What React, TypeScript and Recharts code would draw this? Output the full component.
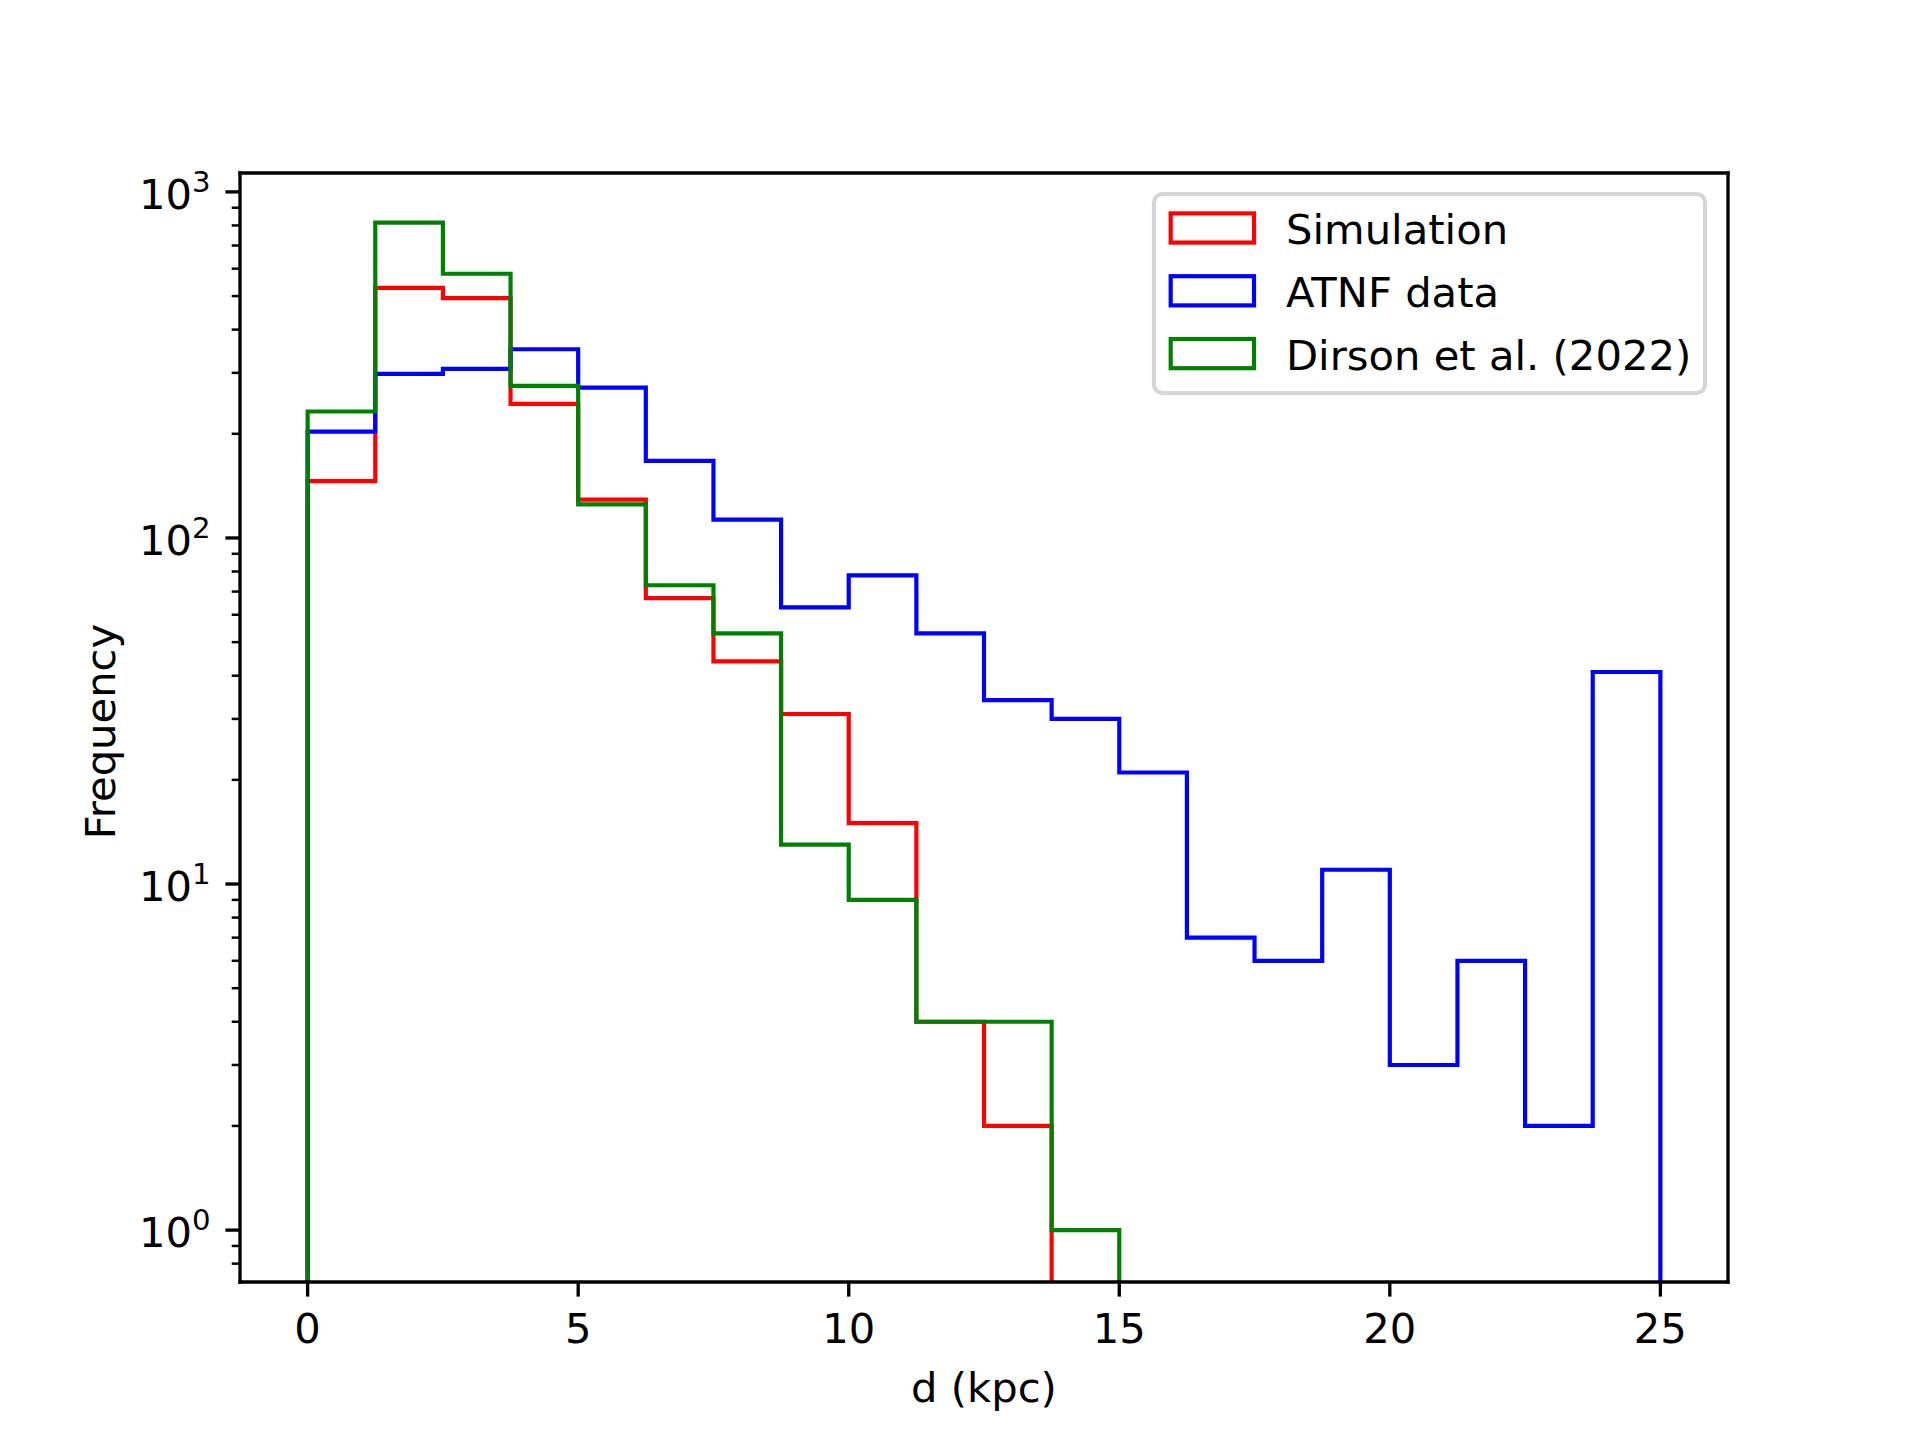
import React from "react";
import { ComposedChart, Line, XAxis, YAxis, Legend } from "recharts";

// ---- data ----
const BIN_EDGES = [0, 1.25, 2.5, 3.75, 5, 6.25, 7.5, 8.75, 10, 11.25, 12.5, 13.75, 15, 16.25, 17.5, 18.75, 20, 21.25, 22.5, 23.75, 25];
const SIMULATION = [146, 528, 493, 244, 129, 67, 44, 31, 15, 4, 2, 0, 0, 0, 0, 0, 0, 0, 0, 0];
const ATNF = [203, 298, 308, 351, 272, 167, 113, 63, 78, 53, 34, 30, 21, 7, 6, 11, 3, 6, 2, 41];
const DIRSON = [232, 815, 580, 275, 125, 73, 53, 13, 9, 4, 4, 1, 0, 0, 0, 0, 0, 0, 0, 0];
const SERIES_NAMES = ["Simulation", "ATNF data", "Dirson et al. (2022)"];
const SERIES_COLORS = ["#ff0000", "#0000ff", "#008000"];
const X_TICKS = [0, 5, 10, 15, 20, 25];
const Y_MAJOR_TICKS = [1, 10, 100, 1000];
const Y_MINOR_TICKS = [0.8, 0.9, 2, 3, 4, 5, 6, 7, 8, 9, 20, 30, 40, 50, 60, 70, 80, 90, 200, 300, 400, 500, 600, 700, 800, 900];
const X_DOMAIN = [-1.25, 26.25];
const Y_DOMAIN = [0.708, 1134];
const LOG_FLOOR = 0.3; // stand-in for empty bins (below the visible range)

const FONT = "DejaVu Sans";
const FS = 41.7;

const v = (n: number) => (n > 0 ? n : LOG_FLOOR);

// step outline table built from the histogram arrays
const buildTable = () => {
  const rows: any[] = [];
  const last = BIN_EDGES.length - 1;
  rows.push({ x: BIN_EDGES[0], sim: LOG_FLOOR, atnf: LOG_FLOOR, dir: LOG_FLOOR });
  for (let i = 0; i < last; i++) {
    rows.push({ x: BIN_EDGES[i], sim: v(SIMULATION[i]), atnf: v(ATNF[i]), dir: v(DIRSON[i]) });
  }
  rows.push({ x: BIN_EDGES[last], sim: v(SIMULATION[last - 1]), atnf: v(ATNF[last - 1]), dir: v(DIRSON[last - 1]) });
  rows.push({ x: BIN_EDGES[last], sim: LOG_FLOOR, atnf: LOG_FLOOR, dir: LOG_FLOOR });
  return rows;
};
const TABLE = buildTable();
const Y_TICKS = [...Y_MAJOR_TICKS, ...Y_MINOR_TICKS].sort((a, b) => a - b);

const XTick = (props: any) => {
  const { x, y, payload } = props;
  return (
    <g>
      <line x1={x} x2={x} y1={y} y2={y + 14.6} stroke="#000" strokeWidth={3.33} />
      <text x={x} y={y + 61} textAnchor="middle" fontFamily={FONT} fontSize={FS} fill="#000">
        {payload.value}
      </text>
    </g>
  );
};

const YTick = (props: any) => {
  const { x, y, payload } = props;
  const val = payload.value;
  const exp = Math.log10(val);
  const major = Math.abs(exp - Math.round(exp)) < 1e-9;
  return (
    <g>
      <line x1={x - (major ? 14.6 : 8.3)} x2={x} y1={y} y2={y} stroke="#000" strokeWidth={major ? 3.33 : 2.5} />
      {major && (
        <text x={x - 29.5} y={y + 16.7} textAnchor="end" fontFamily={FONT} fontSize={FS} fill="#000">
          10
          <tspan dy={-16.5} fontSize={29.2}>
            {Math.round(exp)}
          </tspan>
        </text>
      )}
    </g>
  );
};

const XLabel = (props: any) => {
  const vb = props.viewBox || {};
  const cx = (vb.x ?? 240) + (vb.width ?? 1488) / 2;
  const y = vb.y ?? 1282;
  return (
    <text x={cx} y={y + 120} textAnchor="middle" fontFamily={FONT} fontSize={FS} fill="#000">
      d (kpc)
    </text>
  );
};

const YLabel = (props: any) => {
  const vb = props.viewBox || {};
  const cy = (vb.y ?? 173) + (vb.height ?? 1109) / 2 + 4;
  const x = 115;
  return (
    <text x={x} y={cy} transform={`rotate(-90 ${x} ${cy})`} textAnchor="middle" fontFamily={FONT} fontSize={FS} fill="#000">
      Frequency
    </text>
  );
};

const LegendBox = () => {
  return (
    <svg width={560} height={210} style={{ overflow: "visible", display: "block" }}>
      <rect x={4} y={4} width={551} height={199} rx={8.3} ry={8.3} fill="#ffffff" fillOpacity={0.8} stroke="#d6d6d6" strokeWidth={4.17} />
      {SERIES_NAMES.map((name, i) => {
        const cy = 38 + i * 62.8;
        return (
          <g key={name}>
            <rect x={20.7} y={cy - 14.6} width={83.3} height={29.2} fill="none" stroke={SERIES_COLORS[i]} strokeWidth={4.17} />
            <text x={136} y={cy + 16} fontFamily={FONT} fontSize={FS} fill="#000">
              {name}
            </text>
          </g>
        );
      })}
    </svg>
  );
};

const AXIS_LINE = { stroke: "#000", strokeWidth: 3.33, strokeLinecap: "square" };

export default function App() {
  return (
    <div style={{ position: "absolute", left: 0, top: 0, width: 1920, height: 1440, background: "#fff" }}>
      <ComposedChart
        width={1920}
        height={1440}
        data={TABLE}
        margin={{ top: 172, right: 191, bottom: 98, left: 180 }}
      >
        <XAxis
          dataKey="x"
          type="number"
          domain={X_DOMAIN}
          allowDataOverflow
          ticks={X_TICKS}
          interval={0}
          tick={XTick}
          tickLine={false}
          tickSize={0}
          tickMargin={0}
          height={60}
          axisLine={AXIS_LINE}
          label={XLabel}
        />
        <XAxis
          xAxisId="top"
          orientation="top"
          dataKey="x"
          type="number"
          domain={X_DOMAIN}
          allowDataOverflow
          tick={false}
          tickLine={false}
          height={1}
          axisLine={AXIS_LINE}
        />
        <YAxis
          scale="log"
          type="number"
          domain={Y_DOMAIN}
          allowDataOverflow
          ticks={Y_TICKS}
          interval={0}
          tick={YTick}
          tickLine={false}
          tickSize={0}
          tickMargin={0}
          width={60}
          axisLine={AXIS_LINE}
          label={YLabel}
        />
        <YAxis
          yAxisId="right"
          orientation="right"
          scale="log"
          type="number"
          domain={Y_DOMAIN}
          allowDataOverflow
          tick={false}
          tickLine={false}
          width={1}
          axisLine={AXIS_LINE}
        />
        <Legend
          layout="horizontal"
          verticalAlign="middle"
          align="center"
          content={LegendBox}
          wrapperStyle={{ position: "absolute", left: 1150, top: 190, width: 560, height: 210 }}
        />
        <Line dataKey="sim" name={SERIES_NAMES[0]} type="stepAfter" stroke={SERIES_COLORS[0]} strokeWidth={4.17} dot={false} activeDot={false} isAnimationActive={false} />
        <Line dataKey="atnf" name={SERIES_NAMES[1]} type="stepAfter" stroke={SERIES_COLORS[1]} strokeWidth={4.17} dot={false} activeDot={false} isAnimationActive={false} />
        <Line dataKey="dir" name={SERIES_NAMES[2]} type="stepAfter" stroke={SERIES_COLORS[2]} strokeWidth={4.17} dot={false} activeDot={false} isAnimationActive={false} />
      </ComposedChart>
    </div>
  );
}
